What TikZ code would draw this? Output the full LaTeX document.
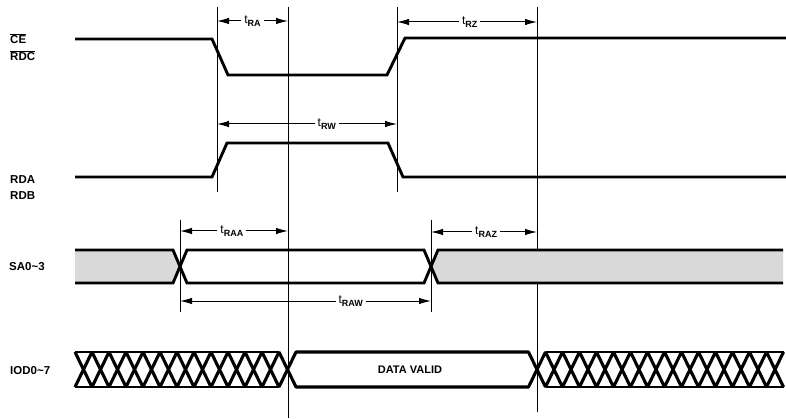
\documentclass[tikz,border=0pt]{standalone}
\usepackage{fontspec}
\setmainfont{Liberation Sans}
\usetikzlibrary{arrows.meta}
\begin{document}
\begin{tikzpicture}[x=1pt,y=-1pt,
  sig/.style={line width=2.9pt, line join=miter},
  hatch/.style={line width=3.1pt, line join=bevel},
  vline/.style={line width=1pt},
  dim/.style={line width=1pt, {Latex[length=12pt,width=6.5pt]}-{Latex[length=12pt,width=6.5pt]}},
  tlab/.style={fill=white, inner sep=3pt, font=\fontsize{12}{12}\selectfont},
  siglab/.style={anchor=west, font=\bfseries\fontsize{11.5}{12}\selectfont, inner sep=0pt},
  shade/.style={fill=gray!30},
  valid/.style={font=\bfseries\fontsize{11}{12}\selectfont, inner sep=0pt}
]
\useasboundingbox (0,0) rectangle (786,419);
\newcommand{\tsub}[1]{t\raisebox{-2.5pt}{\fontsize{9}{9}\selectfont\bfseries #1}}

% signal labels
\node[siglab] (lce)  at (10,39) {$\overline{\mbox{CE}}$};
\node[siglab] (lrdc) at (10,56) {$\overline{\mbox{RDC}}$};
\node[siglab] (lrda) at (10,180) {RDA};
\node[siglab] (lrdb) at (10,196) {RDB};
\node[siglab] (lsa)  at (9,267) {SA0\char`\~3};
\node[siglab] (liod) at (10,371) {IOD0\char`\~7};

% vertical reference lines
\coordinate (v1t) at (217,7);  \coordinate (v1b) at (217,192);
\coordinate (v2t) at (288,7);  \coordinate (v2b) at (288,418);
\coordinate (v3t) at (397,7);  \coordinate (v3b) at (397,192);
\coordinate (v4t) at (537,7);  \coordinate (v4b) at (537,412);
\coordinate (v5t) at (180,220); \coordinate (v5b) at (180,312);
\coordinate (v6t) at (431,220); \coordinate (v6b) at (431,312);
\foreach \v in {1,...,6} \draw[vline] (v\v t) -- (v\v b);

% dimension arrows
\coordinate (ra1) at (217,21);  \coordinate (ra2) at (288,21);
\coordinate (rz1) at (397,22);  \coordinate (rz2) at (537,22);
\coordinate (rw1) at (217,124); \coordinate (rw2) at (397,124);
\coordinate (raa1) at (180,231); \coordinate (raa2) at (288,231);
\coordinate (raz1) at (431,232); \coordinate (raz2) at (537,232);
\coordinate (raw1) at (180,301); \coordinate (raw2) at (431,301);
\draw[dim] (ra1) -- (ra2) node[tlab, pos=0.5] (lra) {\tsub{RA}};
\draw[dim] (rz1) -- (rz2) node[tlab, pos=0.52] (lrz) {\tsub{RZ}};
\draw[dim] (rw1) -- (rw2) node[tlab, pos=0.61] (lrw) {\tsub{RW}};
\draw[dim] (raa1) -- (raa2) node[tlab, pos=0.48] (lraa) {\tsub{RAA}};
\draw[dim] (raz1) -- (raz2) node[tlab, pos=0.52] (lraz) {\tsub{RAZ}};
\draw[dim] (raw1) -- (raw2) node[tlab, pos=0.68] (lraw) {\tsub{RAW}};

% CE / RDC
\draw[sig] (75,39) -- (212,39) -- (228,75) -- (387,75) -- (405,38) -- (786,38);
% RDA / RDB
\draw[sig] (75,177) -- (212,177) -- (227,143) -- (388,143) -- (403,177) -- (786,177);

% SA0~3
\fill[shade] (75,250) -- (173,250) -- (180,266.5) -- (173,283) -- (75,283) -- cycle;
\fill[shade] (438,250) -- (783,250) -- (783,283) -- (438,283) -- (431,266.5) -- cycle;
\draw[sig] (75,250) -- (173,250) -- (187,283) -- (424,283) -- (438,250) -- (783,250);
\draw[sig] (75,283) -- (173,283) -- (187,250) -- (424,250) -- (438,283) -- (783,283);

% IOD0~7
\draw[sig] (75,352) -- (279,352);
\draw[sig] (75,387) -- (279,387);
\draw[sig] (545.5,352) -- (783.5,352);
\draw[sig] (545.5,387) -- (783.5,387);
\draw[hatch] (75,352) \foreach \k in {1,...,6}{ -- ++(17,35) -- ++(17,-35)}
  -- ++(17,35) -- (528.5,387) -- ++(17,-35)
  \foreach \k in {1,...,7}{ -- ++(17,35) -- ++(17,-35)};
\draw[hatch] (75,387) \foreach \k in {1,...,6}{ -- ++(17,-35) -- ++(17,35)}
  -- ++(17,-35) -- (528.5,352) -- ++(17,35)
  \foreach \k in {1,...,7}{ -- ++(17,-35) -- ++(17,35)};
\node[valid] (dv) at (410,369.5) {DATA VALID};
\end{tikzpicture}
\end{document}
